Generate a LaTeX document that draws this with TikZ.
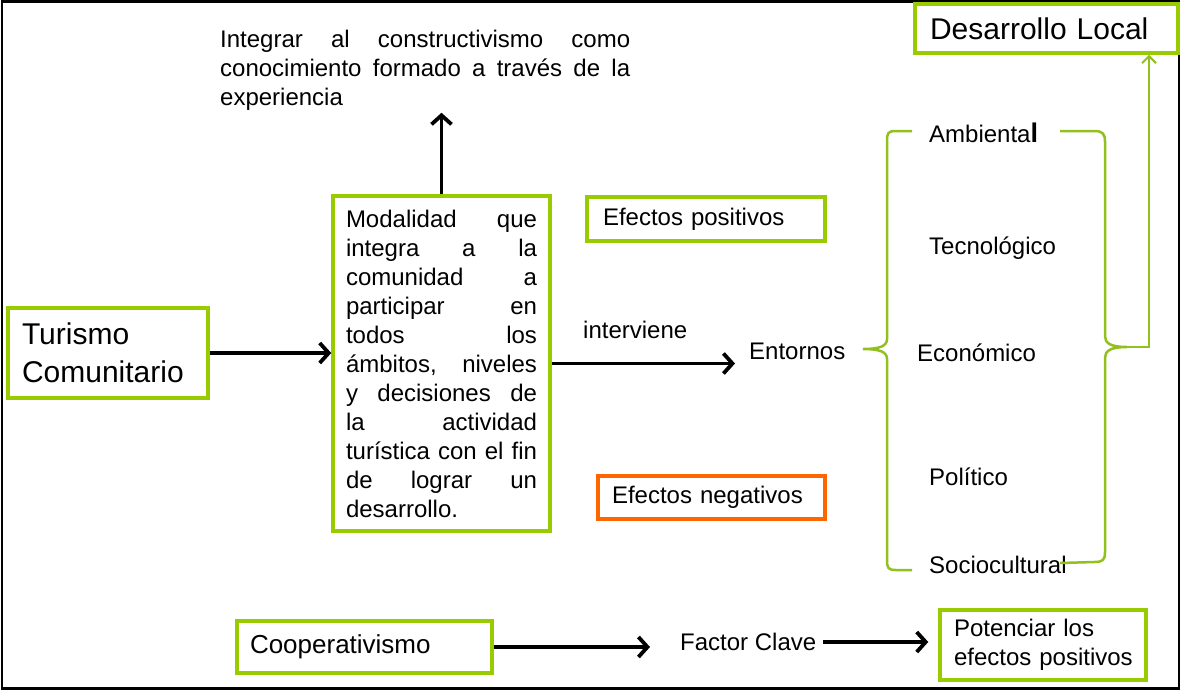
\documentclass[tikz,border=0pt]{standalone}
\usepackage{fontspec}
\setmainfont{Liberation Sans}
\usetikzlibrary{arrows.meta,calc}
\definecolor{boxgreen}{RGB}{153,204,0}
\definecolor{bracegreen}{RGB}{146,192,30}
\definecolor{boxorange}{RGB}{255,102,0}
\tikzset{
  box/.style={draw=boxgreen, line width=3.5pt, fill=white, inner ysep=0pt, align=left, anchor=center},
  nbox/.style={box, draw=boxorange},
  normal/.style={font=\fontsize{24}{29}\selectfont},
  big/.style={font=\fontsize{30}{38}\selectfont},
  plain/.style={inner sep=0pt, anchor=west, normal},
  conn/.style={line width=3.8pt, -{Straight Barb[length=9pt,width=20pt,line width=3.8pt]}},
  gconn/.style={draw=bracegreen, line width=2pt, -{Straight Barb[length=7pt,width=14pt,line width=2pt]}},
  bracestyle/.style={draw=bracegreen, line width=2.5pt}
}
\begin{document}
\begin{tikzpicture}[x=1pt,y=-1pt]
\useasboundingbox (0,0) rectangle (1182,691);
\fill[white] (0,0) rectangle (1182,691);
% outer frame
\draw[line width=2.5pt] (2,1.5) rectangle (1179,688.5);

% boxes
\node[box, big, minimum width=200, minimum height=90, text width=172, inner xsep=14] (tur) at (108,353) {Turismo\\Comunitario};
\node[box, normal, minimum width=217, minimum height=335, text width=191, inner xsep=13] (mod) at (441.5,363.5)
 {Modalidad\hfill que\\
  integra\hfill a\hfill la\\
  comunidad\hfill a\\
  participar\hfill en\\
  todos\hfill los\\
  ámbitos,\hfill niveles\\
  y\hfill decisiones\hfill de\\
  la\hfill actividad\\
  turística\hfill con\hfill el\hfill fin\\
  de\hfill lograr\hfill un\\
  desarrollo.};
\node[box, normal, minimum width=238, minimum height=44, text width=206, inner xsep=16] (pos) at (706,219) {Efectos positivos};
\node[nbox, normal, minimum width=227, minimum height=43, text width=199, inner xsep=14] (neg) at (711.5,497.5) {Efectos negativos};
\node[box, big, minimum width=263, minimum height=49, text width=233, inner xsep=15] (dl) at (1046.5,28.5) {Desarrollo Local};
\node[box, font=\fontsize{26}{30}\selectfont, minimum width=255, minimum height=52, text width=229, inner xsep=13] (coop) at (364.5,647) {Cooperativismo};
\node[box, normal, minimum width=206, minimum height=70, text width=178, inner xsep=14] (pot) at (1043,645) {\mbox{Potenciar los}\\\mbox{efectos positivos}};

% plain texts
\node[normal, inner sep=0pt, text width=410, align=left, anchor=north west] (top) at (220,30)
 {Integrar\hfill al\hfill constructivismo\hfill como\\
  conocimiento\hfill formado\hfill a\hfill través\hfill de\hfill la\\
  experiencia};
\node[plain] (intv) at (583,330) {interviene};
\node[plain] (ent) at (749,351) {Entornos};
\node[plain] (fac) at (680,642) {Factor Clave};
\node[plain] (amb) at (929,133) {Ambienta{\bfseries\fontsize{27}{29}\selectfont l}};
\node[plain] (tec) at (929,248) {Tecnológico};
\node[plain] (eco) at (917,353) {Económico};
\node[plain] (pol) at (929,477) {Político};
\node[plain] (soc) at (929,565) {Sociocultural};

% braces
\draw[bracestyle] (912,131) -- (896,131) .. controls (888,131) and (887,133) .. (887,141)
  -- (887,339) .. controls (887,346) and (880,349) .. (863,349)
  .. controls (880,349) and (887,352) .. (887,359)
  -- (887,560) .. controls (887,568) and (888,570) .. (896,570) -- (912,570);
\draw[bracestyle] (1060,131) -- (1094,131) .. controls (1103,131) and (1105,134) .. (1105,142)
  -- (1105,336) .. controls (1105,343) and (1110,347) .. (1127,347)
  .. controls (1110,347) and (1105,351) .. (1105,358)
  -- (1105,552) .. controls (1105,560) and (1103,562) .. (1094,562) -- (1060,563);
\coordinate (rb) at (1127,347);

% connectors
\draw[conn] (tur.east) -- (tur.east -| mod.west);
\draw[conn] (mod.north) -- ([yshift=-2pt]mod.north |- top.south);
\draw[conn, shorten >=14pt] (mod.east) -- (mod.east -| ent.west);
\draw[gconn] (rb) -| ([xshift=102.5pt]dl.south);
\draw[conn, shorten >=30pt] (coop.east) -- (coop.east -| fac.west);
\draw[conn, shorten <=7pt, shorten >=10pt] (fac.east) -- (fac.east -| pot.west);
\end{tikzpicture}
\end{document}
